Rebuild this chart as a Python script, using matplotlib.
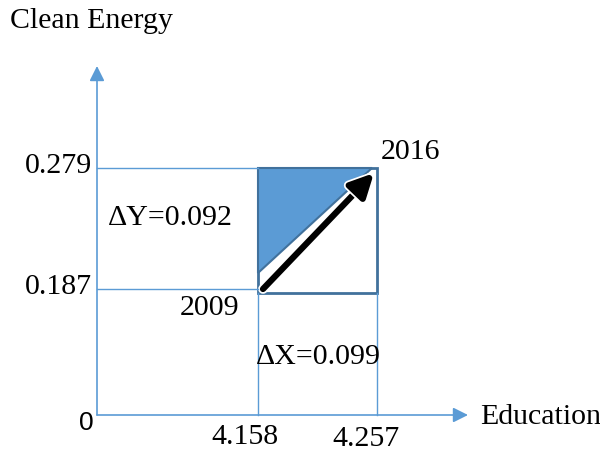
import matplotlib.pyplot as plt
from matplotlib.patches import Polygon, Rectangle, FancyArrowPatch
import matplotlib.patheffects as pe

# values shown on the diagram
x_labels = ["4.158", "4.257"]
y_labels = ["0.187", "0.279"]
years = ["2009", "2016"]
delta_x = 0.099
delta_y = 0.092
x_title = "Education"
y_title = "Clean Energy"

# schematic layout (pixel positions, not to scale)
ORIGIN = (97, 415)
X_POS = [258, 377]
Y_POS = [293, 168]
AXIS_END = (468, 66)

LINE = "#5B9BD5"
EDGE = "#41719C"
SERIF = "Liberation Serif"

fig = plt.figure(figsize=(6, 4.54), dpi=100)
ax = fig.add_axes([0, 0, 1, 1])
ax.set_xlim(0, 600)
ax.set_ylim(454, 0)
ax.axis("off")

# axes with arrow heads
ax.annotate("", xy=(AXIS_END[0], ORIGIN[1]), xytext=(ORIGIN[0], ORIGIN[1]),
            arrowprops=dict(arrowstyle="-|>,head_length=0.9,head_width=0.45",
                            color=LINE, lw=1.2, shrinkA=0, shrinkB=0))
ax.annotate("", xy=(ORIGIN[0], AXIS_END[1]), xytext=(ORIGIN[0], ORIGIN[1]),
            arrowprops=dict(arrowstyle="-|>,head_length=0.9,head_width=0.45",
                            color=LINE, lw=1.2, shrinkA=0, shrinkB=0))

# guide lines
ax.plot([ORIGIN[0], X_POS[0]], [Y_POS[1], Y_POS[1]], color=LINE, lw=1)
ax.plot([ORIGIN[0], X_POS[0]], [Y_POS[0] - 4, Y_POS[0] - 4], color=LINE, lw=1)
ax.plot([X_POS[0], X_POS[0]], [Y_POS[0], ORIGIN[1]], color=LINE, lw=1)
ax.plot([X_POS[1], X_POS[1]], [Y_POS[0], ORIGIN[1]], color=LINE, lw=1)

# box and shaded triangle
ax.add_patch(Rectangle((X_POS[0], Y_POS[1]), X_POS[1] - X_POS[0], Y_POS[0] - Y_POS[1],
                       fill=False, edgecolor=EDGE, lw=2))
tri = Polygon([(X_POS[0], Y_POS[1]), (X_POS[1] - 5, Y_POS[1]), (X_POS[0], Y_POS[0] - 20)],
              closed=True, facecolor=LINE, edgecolor=EDGE, lw=1.5)
ax.add_patch(tri)

# movement arrow 2009 -> 2016
arr = FancyArrowPatch((X_POS[0] + 5, Y_POS[0] - 4), (X_POS[1] - 3, Y_POS[1] + 5),
                      arrowstyle="-|>,head_length=7,head_width=3.5",
                      color="black", lw=4.5, mutation_scale=2.0,
                      shrinkA=0, shrinkB=0)
arr.set_path_effects([pe.Stroke(linewidth=7, foreground="white"), pe.Normal()])
ax.add_patch(arr)

fs = 21.5
ax.text(10, 21, y_title, fontsize=fs, family=SERIF, va="center", ha="left")
ax.text(480, 417, x_title, fontsize=fs, family=SERIF, va="center", ha="left")
ax.text(92, Y_POS[1] - 2, y_labels[1], fontsize=fs, family=SERIF, va="center", ha="right")
ax.text(92, Y_POS[0] - 6, y_labels[0], fontsize=fs, family=SERIF, va="center", ha="right")
ax.text(245, 437, x_labels[0], fontsize=fs, family=SERIF, va="center", ha="center")
ax.text(366, 439, x_labels[1], fontsize=fs, family=SERIF, va="center", ha="center")
ax.text(86, 423, "0", fontsize=19, family="Liberation Sans", va="center", ha="center")
ax.text(108, 218, f"\u0394Y={delta_y:.3f}", fontsize=fs, family=SERIF, va="center", ha="left")
ax.text(256, 357, f"\u0394X={delta_x:.3f}", fontsize=fs, family=SERIF, va="center", ha="left")
ax.text(180, 308, years[0], fontsize=fs, family=SERIF, va="center", ha="left")
ax.text(381, 152, years[1], fontsize=fs, family=SERIF, va="center", ha="left")

fig.savefig("out.png", dpi=100)
